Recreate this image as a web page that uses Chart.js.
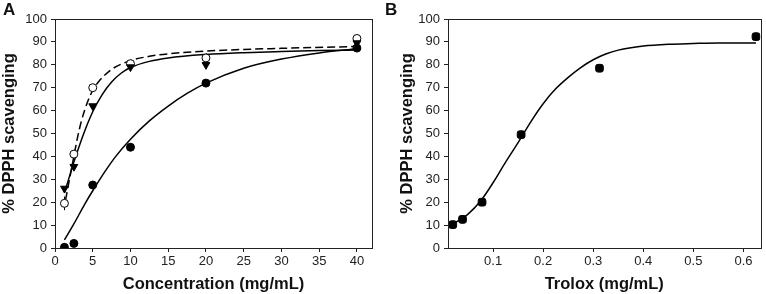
<!DOCTYPE html>
<html>
<head>
<meta charset="utf-8">
<script src="https://cdn.jsdelivr.net/npm/chart.js@4/dist/chart.umd.min.js"></script>
<style>
  html, body { margin: 0; padding: 0; background: #fff; }
  #wrap { position: relative; width: 766px; height: 294px; overflow: hidden; background: #fff; }
  .cv { position: absolute; top: 0; }
  .lbl { position: absolute; font: bold 17px "Liberation Sans", Arial, sans-serif; color: #111; line-height: 1; }
</style>
</head>
<body>
<div id="wrap">
  <div class="cv" style="left:0;width:383px;height:294px"><canvas id="cA" width="383" height="294"></canvas></div>
  <div class="cv" style="left:383px;width:383px;height:294px"><canvas id="cB" width="383" height="294"></canvas></div>
  <div class="lbl" style="left:3px;top:1px">A</div>
  <div class="lbl" style="left:385px;top:1px">B</div>
</div>
<script>
// ---------- Panel A data ----------
const concX = [1.25, 2.5, 5, 10, 20, 40];
const filledY = [0.3, 2, 27.5, 44, 72, 87.3];
const triangleY = [26, 35.5, 62, 79, 80, 89.5];
const openY = [19.5, 41, 70, 80.5, 83, 91.5];
const openErr = [3, 1, 0, 0, 2, 0];

// fitted curves
const fitFilledX = [1.25, 2.5, 4, 5, 6.5, 8, 10, 12.5, 15, 17.5, 20, 25, 30, 35, 40];
const fitFilledY = [3.5, 10.5, 19.5, 25, 32.8, 39.8, 47.5, 55.5, 62, 67.5, 72, 78.5, 82.5, 85.2, 87];
const fitTriX = [1.25, 2.5, 3.75, 5, 6.25, 7.5, 8.75, 10, 12.5, 15, 20, 25, 30, 35, 40];
const fitTriY = [24, 37.5, 49.5, 59.5, 67, 72.5, 76.3, 78.8, 81.5, 83, 84.5, 85.3, 85.8, 86.2, 86.5];
const fitOpenX = [1.4, 2.5, 3, 3.5, 4.4, 5, 5.75, 7.5, 10, 12.5, 15, 20, 30, 40];
const fitOpenY = [21, 40, 48.5, 55.5, 64.5, 68.8, 72.5, 78, 81.8, 83.7, 84.8, 86, 87.2, 88];

const xTicksA = [0, 5, 10, 15, 20, 25, 30, 35, 40];
const yTicks = [0, 10, 20, 30, 40, 50, 60, 70, 80, 90, 100];

// ---------- Panel B data ----------
const troloxX = [0.0195, 0.039, 0.078, 0.156, 0.3125, 0.625];
const troloxY = [10.2, 12.5, 20, 49.5, 78.5, 92.3];
const fitBX = [0.02, 0.05, 0.075, 0.1, 0.125, 0.15, 0.175, 0.2, 0.225, 0.25, 0.275, 0.3, 0.325, 0.35, 0.4, 0.45, 0.5, 0.55, 0.625];
const fitBY = [10.5, 14.8, 20.5, 28.5, 37.5, 46, 55, 63, 69.5, 74.5, 78.8, 82.2, 84.7, 86.4, 88.2, 89, 89.3, 89.5, 89.5];
const xTicksB = [0.1, 0.2, 0.3, 0.4, 0.5, 0.6];

const pts = (xs, ys) => xs.map((x, i) => ({x: x, y: ys[i]}));
const FONT = '"Liberation Sans", Arial, sans-serif';

const framePlugin = {
  id: 'frame',
  afterDatasetsDraw(chart) {
    const {ctx, chartArea: a} = chart;
    ctx.save();
    ctx.strokeStyle = '#222';
    ctx.lineWidth = 1;
    ctx.strokeRect(Math.round(a.left) + 0.5, Math.round(a.top) + 0.5, Math.round(a.right - a.left), Math.round(a.bottom - a.top));
    ctx.restore();
  }
};

const errPlugin = {
  id: 'errbars',
  beforeDatasetsDraw(chart) {
    const {ctx} = chart;
    const xs = chart.scales.x, ys = chart.scales.y;
    chart.data.datasets.forEach(ds => {
      if (!ds.errors) return;
      ctx.save();
      ctx.strokeStyle = '#000';
      ctx.lineWidth = 1;
      ds.data.forEach((p, i) => {
        const e = ds.errors[i];
        if (!e) return;
        const px = Math.round(xs.getPixelForValue(p.x)) + 0.5;
        ctx.beginPath();
        ctx.moveTo(px, ys.getPixelForValue(p.y - e));
        ctx.lineTo(px, ys.getPixelForValue(p.y + e));
        ctx.stroke();
      });
      ctx.restore();
    });
  }
};

function makeScales(xmin, xmax, xticks, yWidth, xfmt) {
  return {
    x: {
      type: 'linear', min: xmin, max: xmax,
      afterFit: s => { s.height = 46; },
      afterBuildTicks: s => { s.ticks = xticks.map(v => ({value: v})); },
      grid: { drawOnChartArea: false, drawTicks: true, tickLength: 4, color: '#222' },
      border: { display: true, color: '#222', width: 1 },
      ticks: { color: '#222', font: { family: FONT, size: 13 }, padding: 2, maxRotation: 0, autoSkip: false,
               callback: v => xfmt(v) },
      title: { display: true, text: '', color: '#111', font: { family: FONT, size: 16.5, weight: 'bold' }, padding: { top: 0, bottom: 0 } }
    },
    y: {
      type: 'linear', min: 0, max: 100,
      afterFit: s => { s.width = yWidth; },
      afterBuildTicks: s => { s.ticks = yTicks.map(v => ({value: v})); },
      grid: { drawOnChartArea: false, drawTicks: true, tickLength: 4, color: '#222' },
      border: { display: true, color: '#222', width: 1 },
      ticks: { color: '#222', font: { family: FONT, size: 13 }, padding: 4, autoSkip: false },
      title: { display: true, text: '% DPPH scavenging', color: '#111', font: { family: FONT, size: 16.5, weight: 'bold' }, padding: { top: 0, bottom: 0 } }
    }
  };
}

const common = {
  responsive: false,
  animation: false,
  events: [],
  plugins: { legend: { display: false }, tooltip: { enabled: false } },
  elements: { line: { cubicInterpolationMode: 'monotone' } }
};

// ---------- Chart A ----------
const scalesA = makeScales(0, 42, xTicksA, 55, v => String(v));
scalesA.x.title.text = 'Concentration (mg/mL)';
new Chart(document.getElementById('cA'), {
  type: 'scatter',
  data: {
    datasets: [
      { data: pts(concX, filledY), pointStyle: 'circle', pointRadius: 4, backgroundColor: '#000', borderColor: '#000', borderWidth: 1, showLine: false },
      { data: pts(concX, triangleY), pointStyle: 'triangle', rotation: 180, pointRadius: 4.5, backgroundColor: '#000', borderColor: '#000', borderWidth: 1, showLine: false },
      { data: pts(concX, openY), errors: openErr, pointStyle: 'circle', pointRadius: 4, backgroundColor: '#fff', borderColor: '#000', borderWidth: 1, showLine: false },
      { data: pts(fitFilledX, fitFilledY), showLine: true, pointRadius: 0, borderColor: '#000', borderWidth: 1.5, fill: false },
      { data: pts(fitTriX, fitTriY), showLine: true, pointRadius: 0, borderColor: '#000', borderWidth: 1.5, fill: false },
      { data: pts(fitOpenX, fitOpenY), showLine: true, pointRadius: 0, borderColor: '#000', borderWidth: 1.5, borderDash: [8, 4], fill: false }
    ]
  },
  options: Object.assign({}, common, {
    layout: { padding: { left: 0, top: 19, right: 11, bottom: 0 } },
    scales: scalesA
  }),
  plugins: [framePlugin, errPlugin]
});

// ---------- Chart B ----------
const scalesB = makeScales(0.01, 0.634, xTicksB, 50, v => Number(v).toFixed(1));
scalesB.x.title.text = 'Trolox (mg/mL)';
new Chart(document.getElementById('cB'), {
  type: 'scatter',
  data: {
    datasets: [
      { data: pts(troloxX, troloxY), pointStyle: 'rectRounded', pointRadius: 4.5, backgroundColor: '#000', borderColor: '#000', borderWidth: 1, showLine: false },
      { data: pts(fitBX, fitBY), showLine: true, pointRadius: 0, borderColor: '#000', borderWidth: 1.5, fill: false }
    ]
  },
  options: Object.assign({}, common, {
    layout: { padding: { left: 15, top: 19, right: 5, bottom: 0 } },
    scales: scalesB
  }),
  plugins: [framePlugin, errPlugin]
});
</script>
</body>
</html>
